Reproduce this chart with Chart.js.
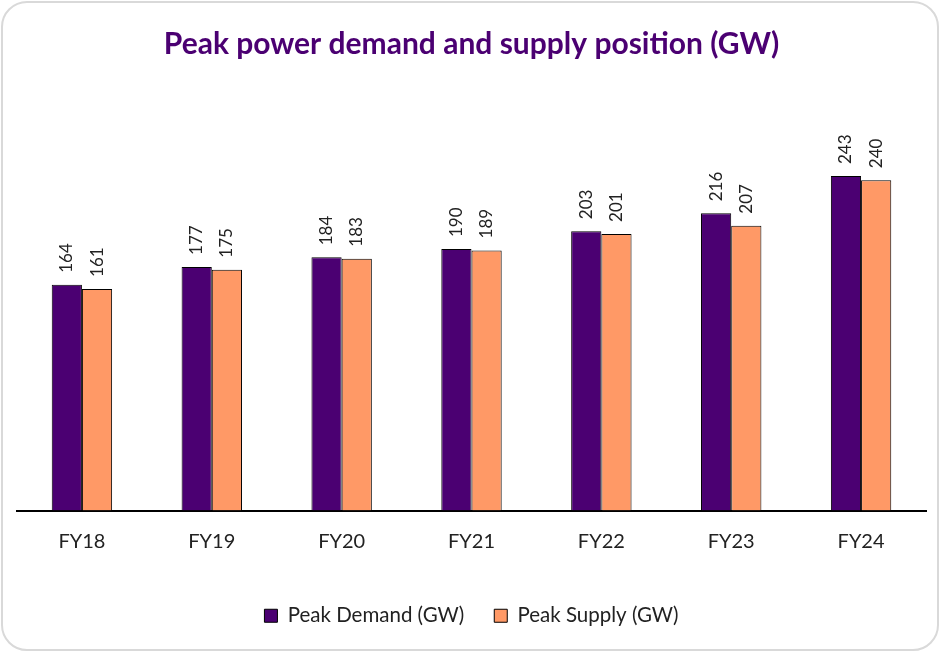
<!DOCTYPE html>
<html lang="en">
<head>
  <meta charset="UTF-8" />
  <title>Peak power demand and supply position (GW)</title>
  <script src="https://cdn.jsdelivr.net/npm/chart.js"></script>
  <style>
    html, body {
      margin: 0;
      padding: 0;
      background: #ffffff;
    }
    #card {
      position: absolute;
      left: 1px;
      top: 1px;
      width: 934px;
      height: 646px;
      border: 2px solid #d9d9d9;
      border-radius: 26px;
      background: #ffffff;
      overflow: hidden;
    }
    #chartBox {
      position: absolute;
      left: 0;
      top: 0;
      width: 934px;
      height: 646px;
    }
  </style>
</head>
<body>
  <div id="card">
    <div id="chartBox">
      <canvas id="peakChart"></canvas>
    </div>
  </div>

  <script>
    const years = ['FY18', 'FY19', 'FY20', 'FY21', 'FY22', 'FY23', 'FY24'];
    const peakDemand = [164, 177, 184, 190, 203, 216, 243];
    const peakSupply = [161, 175, 183, 189, 201, 207, 240];

    const demandColor = '#4b0072';
    const supplyColor = '#ff9966';

    // vertical value labels above each bar
    const barLabels = {
      id: 'barLabels',
      afterDatasetsDraw(chart) {
        const ctx = chart.ctx;
        ctx.save();
        ctx.font = '17px Lato, sans-serif';
        ctx.fillStyle = '#222222';
        ctx.textAlign = 'left';
        ctx.textBaseline = 'middle';
        chart.data.datasets.forEach((ds, i) => {
          const meta = chart.getDatasetMeta(i);
          meta.data.forEach((bar, j) => {
            ctx.save();
            ctx.translate(bar.x, bar.y - 12);
            ctx.rotate(-Math.PI / 2);
            ctx.fillText(ds.data[j], 0, 0);
            ctx.restore();
          });
        });
        ctx.restore();
      }
    };

    const ctx = document.getElementById('peakChart').getContext('2d');
    new Chart(ctx, {
      type: 'bar',
      data: {
        labels: years,
        datasets: [
          {
            label: 'Peak Demand (GW)',
            data: peakDemand,
            backgroundColor: demandColor,
            borderColor: '#000000',
            borderWidth: 1
          },
          {
            label: 'Peak Supply (GW)',
            data: peakSupply,
            backgroundColor: supplyColor,
            borderColor: '#000000',
            borderWidth: 1
          }
        ]
      },
      options: {
        responsive: true,
        maintainAspectRatio: false,
        animation: false,
        layout: {
          padding: { left: 14, right: 11, top: 14, bottom: 13 }
        },
        datasets: {
          bar: { barPercentage: 1, categoryPercentage: 0.465 }
        },
        plugins: {
          title: {
            display: true,
            text: 'Peak power demand and supply position (GW)',
            color: '#4b0072',
            font: { family: 'Lato', size: 30, weight: 'bold' },
            padding: { top: 9, bottom: 15 }
          },
          legend: {
            position: 'bottom',
            labels: {
              color: '#222222',
              font: { family: 'Lato', size: 20.5 },
              boxWidth: 13,
              boxHeight: 13,
              padding: 30
            }
          },
          tooltip: { enabled: false }
        },
        scales: {
          x: {
            grid: { display: false, drawTicks: false },
            border: { display: true, color: '#000000', width: 2 },
            ticks: {
              color: '#222222',
              font: { family: 'Lato', size: 20 },
              padding: 19
            },
            afterFit(scale) {
              scale.height += 3;
            }
          },
          y: {
            display: false,
            min: 0,
            max: 315
          }
        }
      },
      plugins: [barLabels]
    });
  </script>
</body>
</html>
